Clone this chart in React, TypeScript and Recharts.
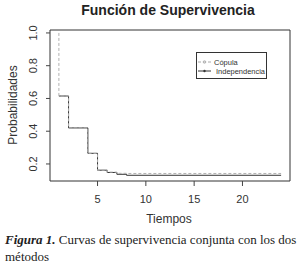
import React from 'react';
import { LineChart, Line, XAxis, YAxis, ReferenceArea, Legend } from 'recharts';

const tiempos = [1, 1, 2, 4, 5, 6, 7, 8, 24];
const copula = [1.0, 0.615, 0.42, 0.265, 0.162, 0.15, 0.143, 0.142, 0.142];
const independencia = [null, 0.615, 0.42, 0.265, 0.162, 0.148, 0.137, 0.131, 0.131];
const xTicks = [5, 10, 15, 20];
const yTicks = [0.2, 0.4, 0.6, 0.8, 1.0];
const seriesNames = ['Cópula', 'Independencia'];

const data = tiempos.map((t, i) => ({ t, copula: copula[i], indep: independencia[i] }));

const X_DOMAIN: [number, number] = [0.08, 24.92];
const Y_DOMAIN: [number, number] = [0.096, 1.018];

const SANS = 'Liberation Sans, Arial, sans-serif';
const SERIF = 'Liberation Serif, Times New Roman, serif';

const XTick = (props: any) => {
  const { x, payload } = props;
  return (
    <text x={x} y={203} textAnchor="middle" fontFamily={SANS} fontSize={11} fill="#333">
      {payload.value}
    </text>
  );
};

const YTick = (props: any) => {
  const { y, payload } = props;
  return (
    <text
      x={37}
      y={y}
      transform={`rotate(-90 37 ${y})`}
      textAnchor="middle"
      fontFamily={SANS}
      fontSize={11}
      fill="#333"
    >
      {Number(payload.value).toFixed(1)}
    </text>
  );
};

const LegendBox = () => (
  <svg width={72} height={28} style={{ display: 'block' }}>
    <rect x={0.5} y={0.5} width={70} height={26} fill="#fff" stroke="#333" strokeWidth={1} />
    <line x1={2} y1={10} x2={15} y2={10} stroke="#aaa" strokeWidth={1} strokeDasharray="3 2" />
    <circle cx={8.5} cy={10} r={1.3} fill="none" stroke="#aaa" strokeWidth={0.8} />
    <text x={18} y={12.5} fontFamily={SANS} fontSize={7.5} fill="#333">{seriesNames[0]}</text>
    <line x1={2} y1={19} x2={15} y2={19} stroke="#333" strokeWidth={1} />
    <circle cx={8.5} cy={19} r={1.2} fill="#333" />
    <text x={20} y={21.5} fontFamily={SANS} fontSize={7.5} fill="#333" textLength={49} lengthAdjust="spacingAndGlyphs">{seriesNames[1]}</text>
  </svg>
);

export default function App() {
  return (
    <div style={{ position: 'absolute', left: 0, top: 0, width: 301, height: 272, background: '#fff' }}>
      <LineChart
        width={301}
        height={272}
        data={data}
        margin={{ top: 30, right: 11, left: 0, bottom: 0 }}
      >
        <XAxis
          dataKey="t"
          type="number"
          domain={X_DOMAIN}
          ticks={xTicks}
          allowDataOverflow
          axisLine={false}
          tickLine={{ stroke: '#444' }}
          tickSize={5}
          height={91}
          tick={<XTick />}
        />
        <YAxis
          type="number"
          domain={Y_DOMAIN}
          ticks={yTicks}
          allowDataOverflow
          axisLine={false}
          tickLine={{ stroke: '#444' }}
          tickSize={4}
          width={50}
          tick={<YTick />}
        />
        <ReferenceArea
          x1={X_DOMAIN[0]}
          x2={X_DOMAIN[1]}
          y1={Y_DOMAIN[0]}
          y2={Y_DOMAIN[1]}
          fill="none"
          stroke="#333"
          strokeWidth={1}
          ifOverflow="visible"
        />
        <Line
          type="stepAfter"
          dataKey="indep"
          stroke="#333"
          strokeWidth={1}
          dot={false}
          isAnimationActive={false}
          connectNulls={false}
        />
        <Line
          type="stepAfter"
          dataKey="copula"
          stroke="#b0b0b0"
          strokeWidth={1}
          strokeDasharray="3 2"
          dot={false}
          isAnimationActive={false}
        />
        <Legend
          layout="vertical"
          align="center"
          verticalAlign="middle"
          content={<LegendBox />}
          wrapperStyle={{ position: 'absolute', left: 196, top: 52, width: 72, height: 28 }}
        />
      </LineChart>
      <svg
        width={301}
        height={272}
        style={{ position: 'absolute', left: 0, top: 0, pointerEvents: 'none' }}
      >
        <text x={168} y={15} textAnchor="middle" fontFamily={SANS} fontWeight="bold" fontSize={14} fill="#222">
          Función de Supervivencia
        </text>
        <text x={169} y={223} textAnchor="middle" fontFamily={SANS} fontSize={12} fill="#333">
          Tiempos
        </text>
        <text
          x={17}
          y={105}
          transform="rotate(-90 17 105)"
          textAnchor="middle"
          fontFamily={SANS}
          fontSize={12}
          fill="#333"
        >
          Probabilidades
        </text>
        <text x={5} y={244} fontFamily={SERIF} fontSize={13} fill="#222">
          <tspan fontWeight="bold" fontStyle="italic">Figura 1.</tspan>
          <tspan> Curvas de supervivencia conjunta con los dos</tspan>
        </text>
        <text x={5} y={261} fontFamily={SERIF} fontSize={13} fill="#222">
          métodos
        </text>
      </svg>
    </div>
  );
}
